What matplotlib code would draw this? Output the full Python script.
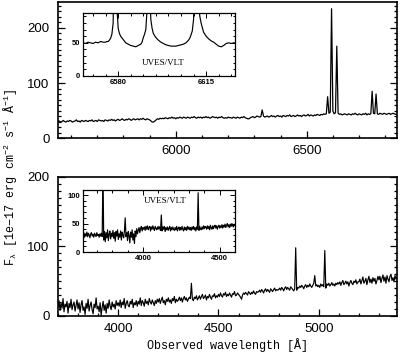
import numpy as np
import matplotlib
matplotlib.use("Agg")
import matplotlib.pyplot as plt
from matplotlib.ticker import MultipleLocator

plt.rcParams["font.family"] = ["Liberation Sans", "DejaVu Sans"]
plt.rcParams["mathtext.fontset"] = "custom"
plt.rcParams["mathtext.rm"] = "Liberation Mono"
plt.rcParams["mathtext.it"] = "Liberation Mono"

# --- red spectrum (top panel), 5 A sampling from 5550 A ---
red_start, red_step = 5550, 5
red_flux = [
    30, 31, 29, 30, 32, 30, 29, 31, 30, 32, 31, 29, 30, 31, 33, 30, 31, 29, 32, 31,
    30, 32, 31, 30, 32, 31, 33, 30, 31, 32, 30, 33, 32, 31, 32, 30, 33, 32, 31, 33,
    32, 34, 32, 33, 31, 33, 34, 32, 33, 35, 33, 32, 34, 33, 35, 34, 32, 34, 35, 33,
    34, 35, 33, 35, 34, 36, 34, 33, 35, 34, 33, 31, 29, 29, 31, 33, 35, 34, 36, 35,
    36, 35, 37, 36, 35, 37, 36, 38, 36, 37, 35, 37, 36, 38, 37, 36, 38, 37, 36, 38,
    37, 36, 38, 37, 39, 37, 36, 38, 37, 38, 36, 38, 37, 39, 37, 38, 36, 37, 39, 38,
    37, 38, 36, 38, 37, 39, 37, 36, 37, 36, 38, 37, 37, 36, 38, 37, 36, 38, 37, 36,
    38, 37, 39, 37, 36, 35, 35, 37, 38, 39, 37, 38, 40, 39, 38, 39, 51, 40, 38, 39,
    40, 38, 39, 41, 39, 40, 38, 40, 41, 39, 40, 38, 41, 40, 39, 41, 40, 42, 39, 40,
    41, 39, 40, 42, 40, 41, 39, 41, 42, 40, 41, 43, 40, 42, 41, 40, 42, 41, 43, 42,
    41, 43, 42, 44, 43, 44, 75, 45, 47, 235, 49, 44, 46, 167, 45, 43, 44, 42, 43, 44,
    43, 42, 44, 43, 42, 44, 43, 45, 43, 42, 44, 43, 42, 44, 43, 45, 42, 44, 43, 44,
    85, 45, 44, 80, 44, 43, 45, 44, 43, 45, 44, 43, 44, 45, 43, 44, 45, 44, 43, 44,
]

# --- UVES inset around H-alpha ---
uves_red_wave = [
    6566, 6567, 6568, 6569, 6570, 6571, 6572, 6573, 6574, 6575,
    6575.5, 6576, 6576.5, 6577, 6577.5, 6578, 6578.7, 6579.4, 6580, 6580.5,
    6581, 6582, 6583, 6584, 6585, 6586, 6587, 6588, 6589,
    6589.5, 6590, 6590.5, 6591, 6591.5, 6592, 6592.5, 6593, 6593.5, 6594,
    6595, 6596, 6597, 6598, 6599, 6600, 6601, 6602, 6603, 6604, 6605, 6606, 6607, 6608,
    6608.5, 6609, 6609.5, 6610, 6610.5, 6611, 6611.5, 6612, 6612.5, 6613,
    6614, 6615, 6616, 6617, 6618, 6619, 6620, 6621, 6622, 6623, 6624, 6625, 6626, 6626.5,
]
uves_red_flux = [
    50, 49, 51, 50, 49, 51, 50, 52, 51, 51,
    52, 52, 54, 57, 63, 80, 300, 110, 72, 64,
    60, 55, 50, 48, 46, 45, 44, 46, 48,
    51, 58, 63, 70, 100, 300, 140, 85, 72, 64,
    58, 54, 51, 49, 47, 46, 45, 45, 45, 46, 47, 48, 50, 54,
    57, 62, 68, 85, 140, 300, 140, 110, 90, 80,
    66, 60, 56, 53, 51, 48, 45, 44, 46, 49, 50, 49, 50, 50,
]

# --- blue spectrum (bottom panel), 5 A sampling from 3700 A ---
blue_start, blue_step = 3700, 5
blue_flux = [
    14, 22, 8, 19, 11, 25, 6, 17, 13, 21, 4, 18, 12, 24, 9, 16, 20, 7, 15, 23,
    10, 19, 5, 16, 22, 8, 13, 2, 18, 11, 24, 7, 15, 20, 9, 3, 17, 12, 26, 10,
    14, 6, 19, 1, 12, 21, 8, 16, 4, 18, 11, 23, 14, 9, 20, 13, 17, 10, 22, 15,
    19, 14, 23, 12, 20, 16, 25, 11, 18, 22, 15, 13, 21, 17, 24, 12, 19, 16, 22, 14,
    21, 17, 26, 15, 22, 19, 14, 24, 18, 21, 16, 25, 20, 17, 23, 19, 15, 22, 18, 24,
    20, 25, 18, 23, 27, 19, 22, 16, 24, 21, 26, 20, 23, 18, 25, 22, 28, 19, 24, 21,
    23, 27, 22, 26, 20, 25, 28, 23, 26, 21, 24, 27, 25, 47, 24, 22, 27, 25, 29, 23,
    26, 29, 24, 28, 31, 25, 27, 30, 23, 28, 26, 31, 27, 24, 29, 28, 32, 26, 29, 27,
    31, 28, 33, 29, 27, 32, 30, 34, 28, 31, 29, 33, 30, 27, 32, 31, 35, 29, 30, 33,
    31, 29, 27, 24, 30, 33, 31, 34, 32, 30, 35, 33, 31, 34, 32, 36, 33, 31, 35, 34,
    35, 37, 34, 38, 36, 33, 37, 39, 35, 38, 36, 34, 39, 37, 35, 38, 40, 36, 38, 37,
    38, 40, 37, 41, 39, 36, 40, 42, 38, 41, 39, 37, 42, 40, 38, 36, 39, 98, 37, 41,
    40, 43, 41, 44, 42, 39, 43, 45, 41, 44, 42, 46, 43, 41, 44, 47, 58, 43, 45, 42,
    44, 41, 46, 43, 45, 42, 94, 40, 46, 44, 47, 43, 45, 48, 44, 46, 43, 47, 45, 48,
    46, 49, 44, 48, 51, 45, 47, 50, 46, 49, 43, 48, 51, 47, 45, 50, 48, 52, 46, 49,
    49, 53, 46, 51, 56, 47, 50, 54, 45, 52, 57, 48, 53, 47, 55, 50, 54, 46, 51, 57,
    52, 57, 48, 54, 59, 50, 56, 47, 58, 53, 49, 57, 60, 51, 55, 49, 58, 53, 56,
]

# --- UVES inset, blue arm, 5 A sampling from 3610 A ---
uves_blue_start, uves_blue_step = 3610, 5
uves_blue_flux = [
    30, 34, 26, 32, 28, 35, 27, 33, 30, 25, 32, 34, 28, 31, 26, 33, 30, 27, 34, 29,
    31, 26, 32, 28, 33, 27, 150, 21, 36, 18, 34, 25, 39, 20, 31, 37, 23, 33, 27, 38,
    24, 34, 19, 36, 28, 39, 22, 32, 26, 37, 21, 35, 29, 25, 38, 60, 27, 34, 20, 36,
    29, 16, 35, 26, 39, 21, 32, 15, 37, 27, 41, 32, 38, 43, 34, 41, 45, 37, 43, 40,
    44, 38, 45, 40, 46, 39, 43, 45, 37, 44, 40, 46, 41, 38, 45, 41, 39, 44, 40, 45,
    41, 38, 65, 37, 44, 40, 45, 36, 43, 39, 44, 38, 42, 45, 37, 43, 39, 44, 40, 38,
    43, 39, 45, 37, 42, 44, 38, 43, 39, 45, 40, 37, 44, 39, 43, 38, 45, 40, 44, 39,
    43, 38, 44, 40, 45, 39, 43, 37, 44, 40, 104, 38, 45, 41, 39, 44, 40, 46, 41, 45,
    44, 40, 46, 41, 45, 39, 47, 42, 40, 46, 41, 45, 47, 42, 46, 40, 45, 47, 42, 46,
    43, 48, 42, 47, 44, 49, 43, 47, 50, 44, 48, 43, 49, 45, 50, 46, 44, 49, 47,
]

red_wave = red_start + red_step * np.arange(len(red_flux))
blue_wave = blue_start + blue_step * np.arange(len(blue_flux))
uves_blue_wave = uves_blue_start + uves_blue_step * np.arange(len(uves_blue_flux))


def style(ax, xmaj, xmin, ymaj, ymin, size, bold=False, main=True):
    ax.xaxis.set_major_locator(MultipleLocator(xmaj))
    ax.xaxis.set_minor_locator(MultipleLocator(xmin))
    ax.yaxis.set_major_locator(MultipleLocator(ymaj))
    ax.yaxis.set_minor_locator(MultipleLocator(ymin))
    if main:
        ax.tick_params(which="both", direction="in", right=True, top=False,
                       width=0.9, labelsize=size)
        ax.tick_params(which="major", length=5)
        ax.tick_params(which="minor", length=2.5)
        ax.tick_params(axis="x", pad=5)
        ax.tick_params(axis="y", pad=6)
    else:
        ax.tick_params(which="both", direction="in", right=True, top=True,
                       width=0.7, labelsize=size)
        ax.tick_params(which="major", length=3.5)
        ax.tick_params(which="minor", length=1.8)
        ax.tick_params(axis="both", pad=2)
    for s in ax.spines.values():
        s.set_linewidth(1.2 if main else 0.9)
    if bold:
        for t in ax.get_xticklabels() + ax.get_yticklabels():
            t.set_fontweight("bold")


fig = plt.figure(figsize=(4.0, 3.53), dpi=100)

ax_top = fig.add_axes([0.145, 0.609, 0.8475, 0.385])
ax_top.plot(red_wave, red_flux, color="black", lw=0.9)
ax_top.set_xlim(5550, 6845)
ax_top.set_ylim(0, 247)
style(ax_top, 500, 100, 100, 10, 9.5)

ax_bot = fig.add_axes([0.145, 0.105, 0.8475, 0.394])
ax_bot.plot(blue_wave, blue_flux, color="black", lw=0.85)
ax_bot.set_xlim(3700, 5390)
ax_bot.set_ylim(0, 200)
style(ax_bot, 500, 100, 100, 10, 9.5)

in_top = fig.add_axes([0.2075, 0.785, 0.38, 0.178])
in_top.plot(uves_red_wave, uves_red_flux, color="black", lw=0.85)
in_top.set_xlim(6566, 6626.5)
in_top.set_ylim(0, 95)
style(in_top, 35, 5, 50, 10, 5.5, bold=True, main=False)
in_top.text(0.53, 0.21, "UVES/VLT", transform=in_top.transAxes,
            ha="center", va="center", fontsize=6.5, family="Liberation Serif")

in_bot = fig.add_axes([0.2075, 0.286, 0.38, 0.176])
in_bot.plot(uves_blue_wave, uves_blue_flux, color="black", lw=0.85)
in_bot.set_xlim(3610, 4600)
in_bot.set_ylim(0, 109)
style(in_bot, 500, 100, 50, 10, 5.5, bold=True, main=False)
in_bot.text(0.54, 0.82, "UVES/VLT", transform=in_bot.transAxes,
            ha="center", va="center", fontsize=6.5, family="Liberation Serif")

fig.text(0.569, 0.022, "Observed wavelength [Å]", ha="center", va="center",
         fontsize=8.5, family="Liberation Mono")
fig.text(0.0275, 0.4986,
         r"F$_\lambda$ [1e$-$17 erg cm$^{-2}$ s$^{-1}$ Å$^{-1}$]",
         ha="center", va="center", rotation=90, fontsize=8.5,
         family="Liberation Mono")

fig.savefig("out.png", dpi=100, facecolor="white")
